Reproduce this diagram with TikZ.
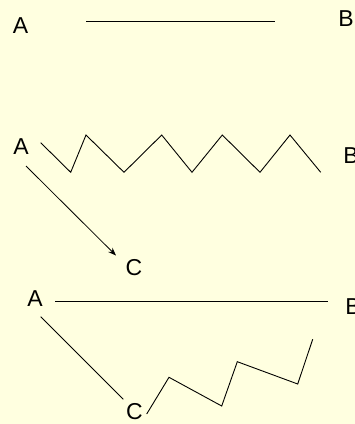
\documentclass[tikz,border=0pt]{standalone}
\usepackage{fontspec}
\setmainfont{Liberation Sans}
\usetikzlibrary{arrows.meta}
\definecolor{paleyellow}{HTML}{FFFFE0}

\begin{document}
\begin{tikzpicture}[x=1pt, y=-1pt,
      lbl/.style={font=\fontsize{23}{26}\selectfont, inner sep=0pt},
      seg/.style={line width=0.9pt, black},
      arrow/.style={-{Stealth[length=8pt, width=6pt]}, line width=0.8pt}
    ]
      \fill[paleyellow] (0,0) rectangle (355,424);
      \useasboundingbox (0,0) rectangle (355,424);
      % top: straight line
      \node[lbl] (a1) at (20.5,25.5) {A};
      \node[lbl] (b1) at (346,19) {B};
      \coordinate (l1s) at (86,21.5);
      \coordinate (l1e) at (275,21.5);
      \draw[seg, line width=1.2pt] (l1s) -- (l1e);
      % middle: zigzag and arrow
      \node[lbl] (a2) at (21,146.5) {A};
      \node[lbl] (b2) at (351,156) {B};
      \node[lbl] (c2) at (134,268) {C};
      \coordinate (z2s) at (40.7,142.7);
      \coordinate (z2e) at (320.7,172.3);
      \draw[seg] (z2s) -- (70.7,172.3) -- (86,135) -- (124,172.3) -- (161.7,135)
        -- (192,172.3) -- (222.3,135) -- (260,172.3) -- (290,135) -- (z2e);
      \coordinate (r2s) at (26,166);
      \coordinate (r2e) at (116,255.5);
      \draw[arrow] (r2s) -- (r2e);
      % bottom: line, slope and zigzag
      \node[lbl] (a3) at (35,299) {A};
      \node[lbl] (b3) at (353,306.5) {B};
      \node[lbl] (c3) at (134.5,412) {C};
      \coordinate (l3s) at (55,301.7);
      \coordinate (l3e) at (327.7,301.7);
      \draw[seg] (l3s) -- (l3e);
      \coordinate (s3s) at (40.7,316.7);
      \coordinate (s3e) at (123.3,399.3);
      \draw[seg] (s3s) -- (s3e);
      \coordinate (z3s) at (146.7,414);
      \coordinate (z3e) at (312.7,339.3);
      \draw[seg] (z3s) -- (169,377.3) -- (221.7,406) -- (237.3,361.7)
        -- (297.7,384) -- (z3e);
    \end{tikzpicture}
\end{document}
